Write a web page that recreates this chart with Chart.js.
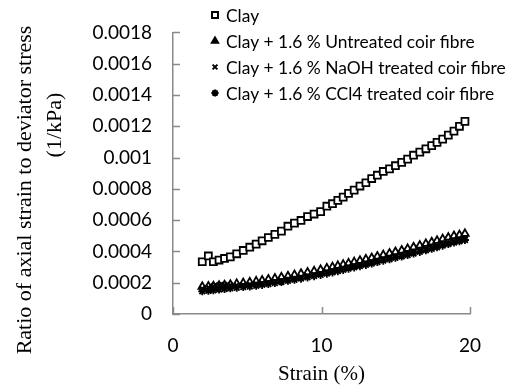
<!DOCTYPE html>
<html>
<head>
<meta charset="utf-8">
<script src="https://cdn.jsdelivr.net/npm/chart.js@4"></script>
<style>
  html, body { margin: 0; padding: 0; background: #fff; }
  #wrap { width: 522px; height: 385px; }
</style>
</head>
<body>
<div id="wrap"><canvas id="c" width="522" height="385"></canvas></div>
<script>
// Strain (%) at each reading
const strain = [1.97, 2.38, 2.72, 3.10, 3.47, 3.86, 4.29, 4.73, 5.17, 5.60,
  6.00, 6.42, 6.86, 7.30, 7.74, 8.18, 8.62, 9.06, 9.50, 9.94,
  10.36, 10.74, 11.10, 11.46, 11.82, 12.20, 12.59, 12.99, 13.38, 13.76,
  14.16, 14.58, 14.98, 15.40, 15.80, 16.20, 16.62, 17.03, 17.42, 17.78,
  18.16, 18.54, 18.92, 19.29, 19.66];

// Ratio of axial strain to deviator stress, in units of 1e-4 (1/kPa)
const clay = [3.34, 3.71, 3.34, 3.45, 3.55, 3.65, 3.85, 4.06, 4.27, 4.47,
  4.68, 4.89, 5.09, 5.30, 5.61, 5.81, 5.98, 6.23, 6.39, 6.54,
  6.89, 7.05, 7.26, 7.47, 7.71, 7.92, 8.18, 8.39, 8.66, 8.87,
  9.11, 9.28, 9.48, 9.69, 9.90, 10.15, 10.35, 10.56, 10.76, 10.97,
  11.18, 11.43, 11.69, 12.00, 12.31];
const untreated = [1.75, 1.76, 1.78, 1.81, 1.84, 1.88, 1.93, 1.98, 2.03, 2.09,
  2.15, 2.21, 2.28, 2.35, 2.42, 2.50, 2.58, 2.66, 2.74, 2.83,
  2.92, 3.00, 3.08, 3.16, 3.24, 3.32, 3.41, 3.50, 3.59, 3.68,
  3.77, 3.87, 3.97, 4.07, 4.17, 4.27, 4.38, 4.49, 4.59, 4.69,
  4.79, 4.89, 4.99, 5.05, 5.13];
const naoh = [1.62, 1.70, 1.78, 1.84, 1.86, 1.84, 1.83, 1.85, 1.88, 1.92,
  1.97, 2.02, 2.08, 2.14, 2.21, 2.28, 2.36, 2.44, 2.52, 2.60,
  2.68, 2.76, 2.84, 2.92, 3.00, 3.08, 3.16, 3.24, 3.33, 3.42,
  3.51, 3.60, 3.69, 3.78, 3.87, 3.97, 4.07, 4.17, 4.26, 4.35,
  4.44, 4.53, 4.62, 4.71, 4.80];
const ccl4 = [1.45, 1.48, 1.52, 1.56, 1.60, 1.64, 1.68, 1.72, 1.76, 1.81,
  1.86, 1.92, 1.98, 2.05, 2.12, 2.19, 2.26, 2.34, 2.42, 2.50,
  2.58, 2.66, 2.74, 2.82, 2.90, 2.98, 3.06, 3.14, 3.23, 3.32,
  3.41, 3.50, 3.59, 3.68, 3.77, 3.87, 3.97, 4.07, 4.17, 4.27,
  4.37, 4.47, 4.57, 4.65, 4.73];

const seriesLabels = [
  'Clay',
  'Clay + 1.6 % Untreated coir fibre',
  'Clay + 1.6 % NaOH treated coir fibre',
  'Clay + 1.6 % CCl4 treated coir fibre'
];
const yTickLabels = ['0', '0.0002', '0.0004', '0.0006', '0.0008', '0.001',
  '0.0012', '0.0014', '0.0016', '0.0018'];
const xTickLabels = ['0', '10', '20'];
const yTitleLines = ['Ratio of axial strain to deviator stress', '(1/kPa)'];
const xTitle = 'Strain (%)';

const AXIS_GREY = '#8a8a8a';
const toPoints = vals => vals.map((v, i) => ({ x: strain[i], y: v * 1e-4 }));

function series(label, vals, style, radius, width) {
  return {
    label, data: toPoints(vals), showLine: false,
    pointStyle: style, pointRadius: radius, pointHoverRadius: radius,
    pointBorderWidth: width, pointBorderColor: '#000',
    pointBackgroundColor: style === 'rect' ? '#fff' : 'rgba(255,255,255,0)',
    borderColor: '#000', backgroundColor: '#fff'
  };
}

const datasets = [
  series(seriesLabels[0], clay, 'rect', 4.9, 1.8),
  series(seriesLabels[1], untreated, 'triangle', 4.4, 1.8),
  series(seriesLabels[2], naoh, 'crossRot', 3.8, 1.9),
  series(seriesLabels[3], ccl4, 'star', 4.0, 1.8)
];

// Short tick marks pointing into the plot area
const innerTicks = {
  id: 'innerTicks',
  afterDatasetsDraw(chart) {
    const { ctx, scales: { x, y } } = chart;
    ctx.save();
    ctx.strokeStyle = AXIS_GREY;
    ctx.lineWidth = 1.5;
    ctx.beginPath();
    y.ticks.forEach((t, i) => {
      const py = Math.round(y.getPixelForTick(i)) + 0.5;
      ctx.moveTo(x.left, py); ctx.lineTo(x.left + 7, py);
    });
    x.ticks.forEach((t, i) => {
      const px = Math.round(x.getPixelForTick(i)) + 0.5;
      ctx.moveTo(px, y.bottom); ctx.lineTo(px, y.bottom - 7);
    });
    ctx.stroke();
    ctx.restore();
  }
};

// Two-line vertical axis title; the second line sits higher than the first
const yTitle = {
  id: 'yTitle',
  afterDraw(chart) {
    const { ctx } = chart;
    const spots = [[25, 190], [55, 125]];
    ctx.save();
    ctx.fillStyle = '#000';
    ctx.font = '22px "Liberation Serif"';
    ctx.textAlign = 'center';
    ctx.textBaseline = 'middle';
    yTitleLines.forEach((line, i) => {
      ctx.save();
      ctx.translate(spots[i][0], spots[i][1]);
      ctx.rotate(-Math.PI / 2);
      ctx.fillText(line, 0, 0);
      ctx.restore();
    });
    ctx.restore();
  }
};

// Legend block in the upper part of the plot
const insetLegend = {
  id: 'insetLegend',
  afterDraw(chart) {
    const { ctx } = chart;
    const mx = 215, tx = 226, y0 = 15, dy = 26;
    const iconRadius = [4.2, 3.6, 3.4, 3.6];
    ctx.save();
    chart.data.datasets.forEach((ds, i) => {
      const cy = y0 + i * dy;
      ctx.strokeStyle = '#000';
      ctx.fillStyle = ds.pointStyle === 'rect' ? '#fff' : '#000';
      ctx.lineWidth = 2;
      Chart.helpers.drawPoint(ctx, {
        pointStyle: ds.pointStyle, radius: iconRadius[i],
        borderWidth: 2, rotation: 0
      }, mx, cy);
      ctx.fillStyle = '#000';
      ctx.font = '17.4px Lato';
      ctx.textBaseline = 'middle';
      ctx.textAlign = 'left';
      ctx.fillText(ds.label, tx, cy + 1);
    });
    ctx.restore();
  }
};

new Chart(document.getElementById('c'), {
  type: 'scatter',
  data: { datasets },
  plugins: [innerTicks, yTitle, insetLegend],
  options: {
    responsive: false,
    animation: false,
    events: [],
    layout: { padding: { left: 0, top: 23, right: 52, bottom: 0 } },
    plugins: { legend: { display: false }, tooltip: { enabled: false } },
    scales: {
      x: {
        type: 'linear', min: 0, max: 20,
        afterFit: s => { s.height = 71; },
        grid: { display: false, drawTicks: false },
        border: { display: true, color: AXIS_GREY, width: 1.5 },
        ticks: {
          stepSize: 10, padding: 20, color: '#000',
          font: { family: 'Lato', size: 19 },
          callback: (v, i) => xTickLabels[i]
        },
        title: {
          display: true, text: xTitle, color: '#000',
          font: { family: 'Liberation Serif', size: 21, lineHeight: 1.0 },
          padding: { top: 0, bottom: 0 }
        }
      },
      y: {
        type: 'linear', min: 0, max: 0.0018,
        afterFit: s => { s.width = 173; },
        grid: { display: false, drawTicks: false },
        border: { display: true, color: AXIS_GREY, width: 1.5 },
        ticks: {
          stepSize: 0.0002, padding: 21, color: '#000',
          font: { family: 'Lato', size: 19 },
          callback: (v, i) => yTickLabels[i]
        }
      }
    }
  }
});
</script>
</body>
</html>
